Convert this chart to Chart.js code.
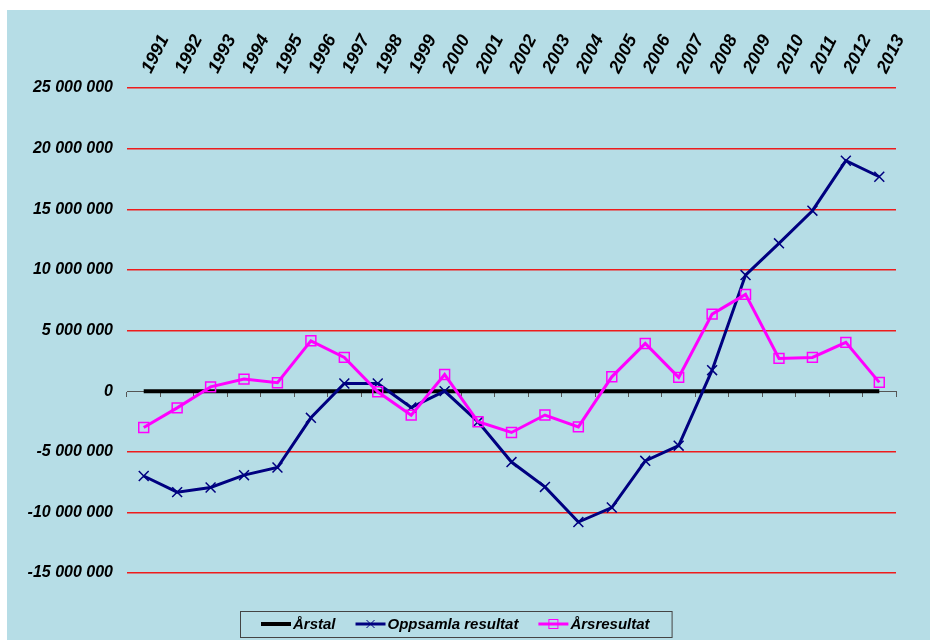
<!DOCTYPE html>
<html>
<head>
<meta charset="utf-8">
<script src="https://cdn.jsdelivr.net/npm/chart.js@4/dist/chart.umd.min.js"></script>
<style>
  body { margin: 0; background: #ffffff; }
  #wrap { position: absolute; left: 7px; top: 10px; width: 923px; height: 630px; background: #b6dde6; }
</style>
</head>
<body>
<div id="wrap"><canvas id="Chart1" width="923" height="630"></canvas></div>
<script>
var years = ['1991','1992','1993','1994','1995','1996','1997','1998','1999','2000','2001','2002',
             '2003','2004','2005','2006','2007','2008','2009','2010','2011','2012','2013'];
var arstal = [0,0,0,0,0,0,0,0,0,0,0,0,0,0,0,0,0,0,0,0,0,0,0];
var oppsamla = [-7000000,-8330000,-7950000,-6930000,-6300000,-2200000,630000,630000,-1350000,0,
                -2530000,-5850000,-7900000,-10800000,-9600000,-5750000,-4500000,1730000,9570000,
                12190000,14880000,19000000,17680000];
var arsresultat = [-3000000,-1380000,350000,990000,690000,4150000,2780000,-50000,-1980000,1370000,
                   -2530000,-3410000,-1970000,-2950000,1180000,3930000,1130000,6350000,7980000,
                   2700000,2780000,4020000,720000];
var yMin = -15000000, yMax = 25000000, yStep = 5000000;

var FONT = '"Liberation Sans", Arial, sans-serif';

function formatNumber(v) {
    var s = String(Math.abs(v)).replace(/\B(?=(\d{3})+(?!\d))/g, ' ');
    return (v < 0 ? '-' : '') + s;
}

// legend drawn by hand, with a frame like the original
var legendBox = {
    id: 'legendBox',
    afterDraw: function(chart) {
        var ctx = chart.ctx;
        var left = 233, top = 601, h = 26;
        var x = left + 21, cy = top + h / 2;
        ctx.save();
        ctx.font = 'italic bold 15px ' + FONT;
        ctx.textBaseline = 'middle';
        chart.data.datasets.forEach(function(ds) {
            ctx.strokeStyle = ds.borderColor;
            ctx.lineWidth = ds.borderWidth;
            ctx.beginPath();
            ctx.moveTo(x, cy);
            ctx.lineTo(x + 30, cy);
            ctx.stroke();
            ctx.lineWidth = 1;
            var mx = x + 15;
            if (ds.pointStyle == 'crossRot') {
                ctx.strokeStyle = ds.pointBorderColor;
                ctx.beginPath();
                ctx.moveTo(mx - 4, cy - 4); ctx.lineTo(mx + 4, cy + 4);
                ctx.moveTo(mx - 4, cy + 4); ctx.lineTo(mx + 4, cy - 4);
                ctx.stroke();
            } else if (ds.pointStyle == 'rect') {
                ctx.strokeStyle = ds.pointBorderColor;
                ctx.strokeRect(mx - 4.5, cy - 4.5, 9, 9);
            }
            ctx.fillStyle = '#000000';
            ctx.fillText(ds.label, x + 32, cy + 1);
            x += 32 + ctx.measureText(ds.label).width + 20;
        });
        var right = x - 20 + 22;
        ctx.strokeStyle = '#444444';
        ctx.lineWidth = 1;
        ctx.strokeRect(left + 0.5, top + 0.5, right - left, h);
        ctx.restore();
    }
};

var ctx = document.getElementById('Chart1');
var chart = new Chart(ctx, {
    type: 'line',
    data: {
        labels: years,
        datasets: [
            {
                label: 'Årstal',
                data: arstal,
                borderColor: '#000000',
                borderWidth: 4,
                pointRadius: 0,
                order: 3
            },
            {
                label: 'Oppsamla resultat',
                data: oppsamla,
                borderColor: '#000080',
                borderWidth: 3,
                pointStyle: 'crossRot',
                pointRadius: 7,
                pointBorderColor: '#000080',
                pointBorderWidth: 1.5,
                order: 2
            },
            {
                label: 'Årsresultat',
                data: arsresultat,
                borderColor: '#ff00ff',
                borderWidth: 3,
                pointStyle: 'rect',
                pointRadius: 7,
                pointBorderColor: '#ff00ff',
                pointBackgroundColor: 'rgba(0,0,0,0)',
                pointBorderWidth: 1.5,
                order: 1
            }
        ]
    },
    options: {
        animation: false,
        responsive: false,
        devicePixelRatio: 1,
        layout: { padding: { left: 0, right: 34, top: 0, bottom: 67 } },
        plugins: {
            legend: { display: false },
            tooltip: { enabled: false }
        },
        scales: {
            x: {
                position: 'top',
                offset: true,
                grid: { display: false, drawTicks: false },
                border: { display: false },
                ticks: {
                    autoSkip: false,
                    minRotation: 63,
                    maxRotation: 63,
                    padding: 11,
                    labelOffset: 22,
                    color: '#000000',
                    font: { family: FONT, size: 18, style: 'italic', weight: 'bold' }
                },
                afterFit: function(scale) { scale.height = 78; }
            },
            x2: {
                type: 'category',
                labels: years,
                position: { y: 0 },
                offset: true,
                grid: { offset: true, drawOnChartArea: false, drawTicks: true, tickLength: 5, color: '#555555' },
                border: { display: true, color: '#555555', width: 1 },
                ticks: { display: false }
            },
            y: {
                min: yMin,
                max: yMax,
                grid: {
                    drawTicks: false,
                    lineWidth: 1.5,
                    color: function(c) { return c.tick && c.tick.value == 0 ? 'rgba(0,0,0,0)' : '#ee1c1c'; }
                },
                border: { display: false },
                ticks: {
                    stepSize: yStep,
                    padding: 14,
                    color: '#000000',
                    font: { family: FONT, size: 16, style: 'italic', weight: 'bold' },
                    callback: function(v) { return formatNumber(v); }
                },
                afterFit: function(scale) { scale.width = 120; }
            }
        }
    },
    plugins: [legendBox]
});
</script>
</body>
</html>
